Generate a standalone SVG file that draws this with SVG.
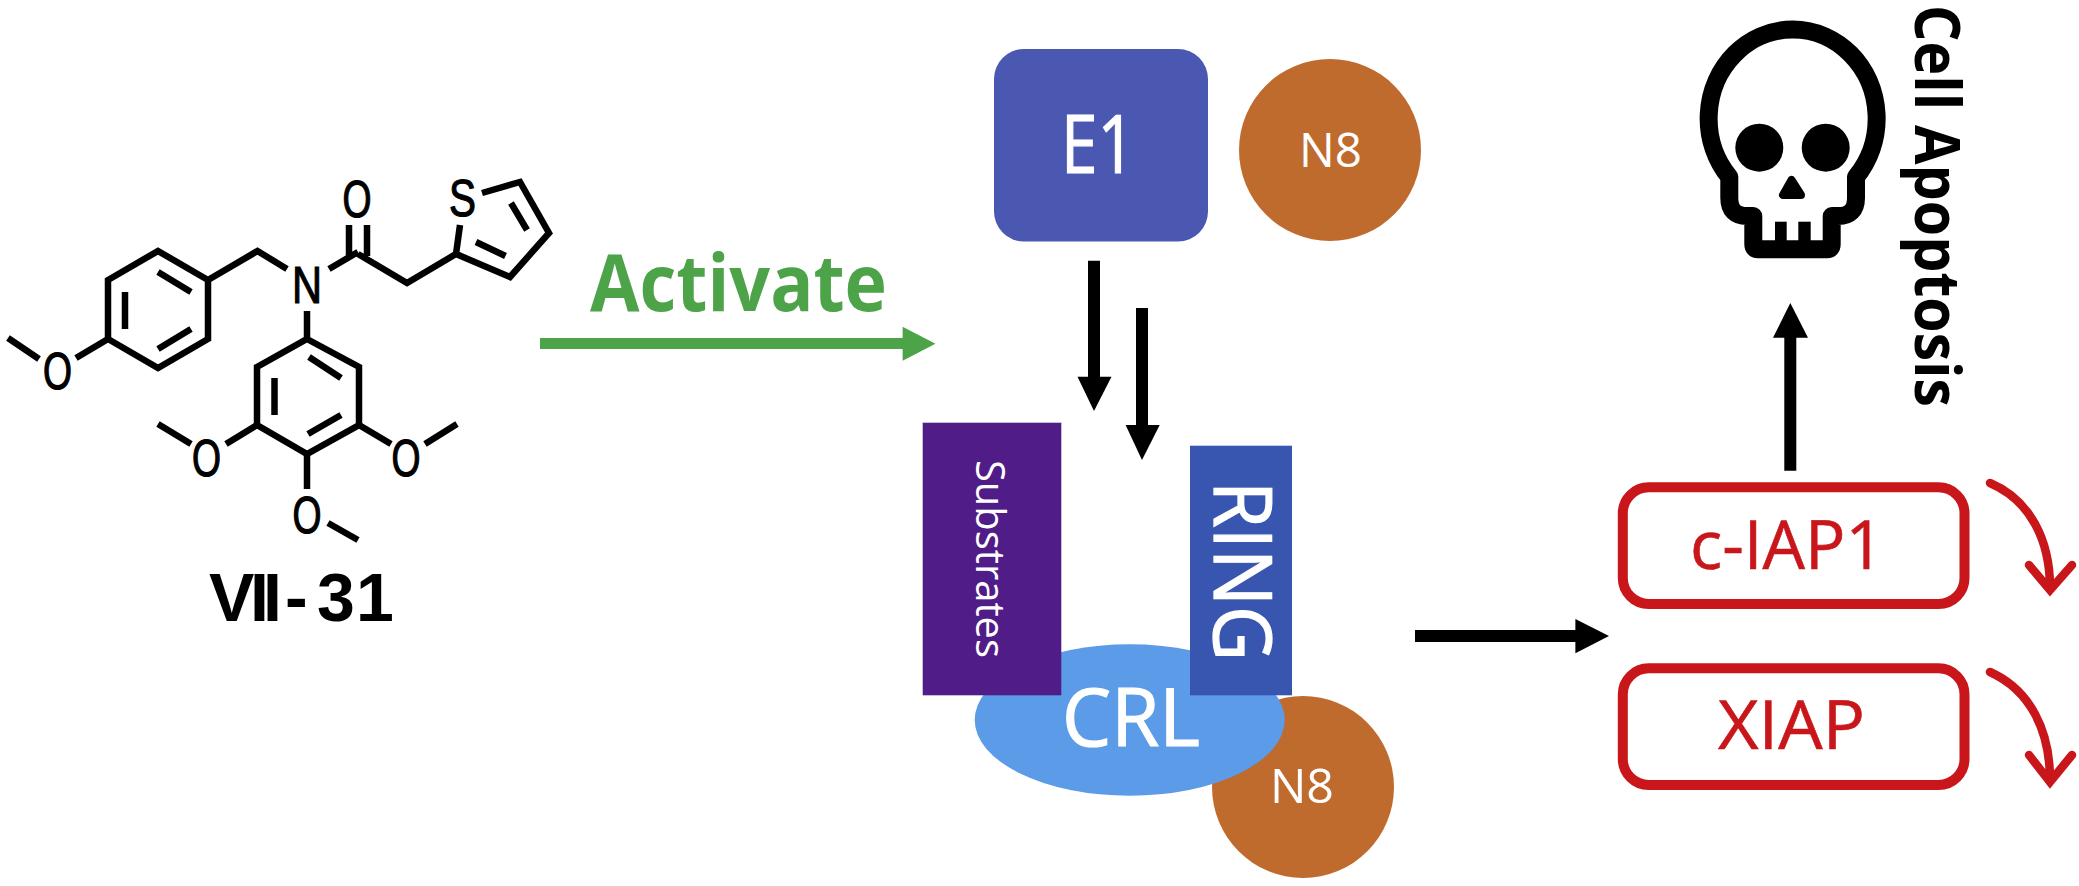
<svg xmlns="http://www.w3.org/2000/svg" width="2079" height="886" viewBox="0 0 2079 886">
<defs>
<style>
.bond{fill:none;stroke:#000;stroke-width:6.5;stroke-linecap:butt;stroke-linejoin:miter}
.atom{font-family:"Liberation Sans",Arial,sans-serif;font-size:51px;fill:#000;stroke:#000;stroke-width:1.2;text-anchor:middle}
.w{font-family:"Open Sans","Noto Sans",sans-serif;fill:#fff}
.thick{stroke:#fff;stroke-width:1.2}
.r{font-family:"Open Sans","Noto Sans",sans-serif;fill:#c8161a;font-size:67px;stroke:#c8161a;stroke-width:.6}
.box{fill:#fff;stroke:#c8161a;stroke-width:10}
.curve{fill:none;stroke:#c8161a;stroke-width:8.5;stroke-linecap:round;stroke-linejoin:miter}
.blk{fill:none;stroke:#000;stroke-width:12}
</style>
</defs>
<rect width="2079" height="886" fill="#fff"/>

<g id="compound-VII-31">
<path class="bond" d="M158,251L208,280L208,339L158,368L108,339L108,280Z"/>
<path class="bond" d="M158,272L191,292M158,349L191,329M125,292L125,329"/>
<path class="bond" d="M208,280L257.5,251L287,269M329,269L358,252M349,225V256M367,225V256M358,254L407,283L456,254L510,277L549,233L520,182L482,193M456,254L460,225M511,203L527,230M476,242L505.5,256"/>
<path class="bond" d="M307,311V339M307,339L359,367L359,425L307,454L257,425L257,367Z"/>
<path class="bond" d="M309,357L341,378M308,434L341,415M274.5,378L274.5,415"/>
<path class="bond" d="M108,339L76,358M39,359L8,338M257,425L226,444M191,444L158,424M359,425L391,444M425,444L457,424M307,454V489M328,523L358,540"/>
<text class="atom" x="307" y="303" textLength="30" lengthAdjust="spacingAndGlyphs">N</text>
<text class="atom" x="357" y="217" textLength="29" lengthAdjust="spacingAndGlyphs">O</text>
<text class="atom" x="462.5" y="215.5" textLength="27" lengthAdjust="spacingAndGlyphs">S</text>
<text class="atom" x="57.5" y="388.5" textLength="29" lengthAdjust="spacingAndGlyphs">O</text>
<text class="atom" x="206.5" y="475.5" textLength="29" lengthAdjust="spacingAndGlyphs">O</text>
<text class="atom" x="406" y="475.5" textLength="29" lengthAdjust="spacingAndGlyphs">O</text>
<text class="atom" x="307" y="532.5" textLength="29" lengthAdjust="spacingAndGlyphs">O</text>
<text x="209 250 263 285 317 356" y="620.7" font-family="'Liberation Sans',Arial,sans-serif" font-size="68" font-weight="bold" fill="#000">VII-31</text>
</g>

<g id="activate-label">
<text x="590" y="311" font-family="'Open Sans','Noto Sans',sans-serif" font-size="78" font-weight="bold" fill="#4da348" textLength="297" lengthAdjust="spacingAndGlyphs">Activate</text>
</g>

<g id="e1">
<rect x="994" y="49" width="214" height="192.5" rx="30" ry="30" fill="#4a58b2"/>
<text class="w thick" x="1061" y="173" font-size="80" textLength="74" lengthAdjust="spacingAndGlyphs">E1</text>
</g>

<g id="n8-top">
<circle cx="1330" cy="150" r="91" fill="#c06b2e"/>
<text class="w" x="1299" y="166.5" font-size="48" textLength="63" lengthAdjust="spacingAndGlyphs">N8</text>
</g>

<g id="n8-bottom">
<circle cx="1303" cy="787" r="91" fill="#c06b2e"/>
<text class="w" x="1270" y="803" font-size="48" textLength="64" lengthAdjust="spacingAndGlyphs">N8</text>
</g>

<g id="crl">
<ellipse cx="1129.7" cy="720" rx="155" ry="75.7" fill="#5b9be8"/>
<text class="w thick" x="1062" y="746" font-size="80" textLength="138" lengthAdjust="spacingAndGlyphs">CRL</text>
</g>

<g id="substrates">
<rect x="922.7" y="422.7" width="138.6" height="272.6" fill="#501c88"/>
<text class="w" transform="translate(976,460) rotate(90)" font-size="40" textLength="198" lengthAdjust="spacingAndGlyphs">Substrates</text>
</g>

<g id="ring">
<rect x="1190" y="445.7" width="102" height="249.6" fill="#3856af"/>
<text class="w thick" transform="translate(1214,481) rotate(90)" font-size="80" textLength="180" lengthAdjust="spacingAndGlyphs">RING</text>
</g>

<g id="c-iap1">
<rect class="box" x="1622.8" y="487.3" width="341.7" height="116.7" rx="26" ry="26"/>
<text class="r" x="1690" y="569" textLength="194" lengthAdjust="spacingAndGlyphs">c-IAP1</text>
</g>

<g id="xiap">
<rect class="box" x="1622.8" y="668.3" width="341.7" height="116.7" rx="26" ry="26"/>
<text class="r" x="1718" y="749.3" textLength="147" lengthAdjust="spacingAndGlyphs">XIAP</text>
</g>

<g id="skull">
<path d="M1729.3,177V198Q1729.3,216 1747,216H1753.3V244Q1753.3,249.3 1758,249.3H1827Q1831.7,249.3 1831.7,244V216H1838Q1856,216 1856,198V177A84,89 0 1 0 1729.3,177Z" fill="#fff" stroke="#000" stroke-width="18" stroke-linejoin="round"/>
<rect x="1775" y="221.7" width="11.7" height="24" fill="#000"/>
<rect x="1798.3" y="221.7" width="12.4" height="24" fill="#000"/>
<circle cx="1759.3" cy="147.7" r="24" fill="#000"/>
<circle cx="1825.7" cy="147.7" r="24" fill="#000"/>
<path d="M1791.5,180L1783,195H1801Z" fill="#000" stroke="#000" stroke-width="8" stroke-linejoin="round"/>
</g>

<g id="cell-apoptosis">
<text transform="translate(1915,5) rotate(90)" font-family="'Open Sans','Noto Sans',sans-serif" font-size="62" font-weight="bold" fill="#000" textLength="402" lengthAdjust="spacingAndGlyphs">Cell Apoptosis</text>
</g>

<g id="connectors">
<path d="M540,343.5H903" fill="none" stroke="#4da348" stroke-width="11"/>
<path d="M902.6,326.7L935.5,343.7L902.6,360.7Z" fill="#4da348"/>
<path class="blk" d="M1094,260.7V378"/>
<path d="M1077.5,376.7H1111.5L1094,411Z" fill="#000"/>
<path class="blk" d="M1142,308V426"/>
<path d="M1125.6,425H1159.7L1142,460Z" fill="#000"/>
<path class="blk" d="M1415,636H1576"/>
<path d="M1575.4,619L1609,636L1575.4,653.3Z" fill="#000"/>
<path class="blk" d="M1790.3,470.7V337"/>
<path d="M1773,337.7L1790.3,303L1808,337.7Z" fill="#000"/>
<path class="curve" d="M1990,483C2030,500 2050,540 2050,588M2029,565L2050,590L2072,565"/>
<path class="curve" d="M1990,672C2030,690 2050,730 2050,780M2029,755L2050,782L2072,755"/>
</g>
</svg>
